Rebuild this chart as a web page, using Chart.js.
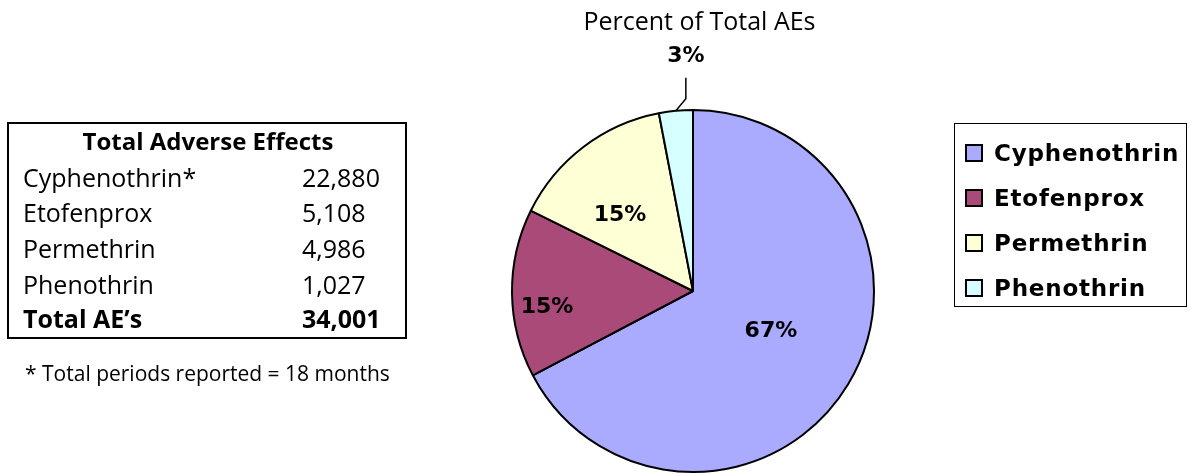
<!DOCTYPE html>
<html>
<head>
<meta charset="utf-8">
<script src="https://cdn.jsdelivr.net/npm/chart.js@4.4.1/dist/chart.umd.min.js"></script>
<style>
html,body{margin:0;padding:0;background:#fff;}
#wrap{position:relative;width:1193px;height:474px;overflow:hidden;background:#fff;}
#c{position:absolute;left:0;top:0;}
.txt{position:absolute;white-space:nowrap;color:#000;line-height:1;}
.os{font-family:"Open Sans",sans-serif;}
.dv{font-family:"DejaVu Sans",sans-serif;font-weight:bold;letter-spacing:0.8px;}
#tbox{position:absolute;left:7px;top:122px;width:396px;height:213px;border:2px solid #000;}
#lbox{position:absolute;left:954px;top:123px;width:231px;height:182px;border:1.5px solid #000;}
.sw{position:absolute;box-sizing:border-box;width:18px;height:18px;border:2px solid #000;}
</style>
</head>
<body>
<div id="wrap">
  <canvas id="c" width="1193" height="474"></canvas>
  <div id="title" class="txt os" style="font-size:25px;left:699.5px;top:7.8px;transform:translateX(-50%);"></div>
  <div id="tbox"></div>
  <div id="tableText"></div>
  <div id="foot" class="txt os" style="font-size:21px;left:25px;top:363.4px;"></div>
  <div id="lbox"></div>
  <div id="legend"></div>
</div>
<script>
// ---- data ----
const chartTitle = 'Percent of Total AEs';
const categories = ['Cyphenothrin', 'Etofenprox', 'Permethrin', 'Phenothrin'];
const adverseEffects = [22880, 5108, 4986, 1027];
const tableHeader = 'Total Adverse Effects';
const tableNames = ['Cyphenothrin*', 'Etofenprox', 'Permethrin', 'Phenothrin'];
const tableValues = ['22,880', '5,108', '4,986', '1,027'];
const totalLabel = 'Total AE\u2019s';
const totalValue = '34,001';
const footnote = '* Total periods reported = 18 months';

// ---- styles ----
const sliceColors = ['#AAAAFF', '#AA4A78', '#FFFFD6', '#D6FFFF'];
// where each percent label sits: t = fraction along the slice angle, r = fraction of radius
const labelPlacement = [
  {t: 0.48, r: 0.48},
  {t: 0.41, r: 0.81},
  {t: 0.39, r: 0.59},
  {outside: true, dx: 10, dy: -12, lineTop: -33, textBase: -49}
];

// ---- HTML text parts ----
document.getElementById('title').textContent = chartTitle;
document.getElementById('foot').textContent = footnote;

const tt = document.getElementById('tableText');
function addText(parent, cls, str, size, left, baseline, bold, extra) {
  const d = document.createElement('div');
  d.className = 'txt ' + cls;
  d.textContent = str;
  d.style.fontSize = size + 'px';
  const k = cls === 'os' ? 0.888 : 0.846;
  d.style.top = (baseline - k * size) + 'px';
  if (left !== null) d.style.left = left + 'px';
  if (bold) d.style.fontWeight = 'bold';
  if (extra) Object.assign(d.style, extra);
  parent.appendChild(d);
  return d;
}
addText(tt, 'os', tableHeader, 24, 208, 150.7, true, {transform: 'translateX(-50%)'});
const rowBase = [187, 222, 258, 294];
tableNames.forEach((n, i) => {
  addText(tt, 'os', n, 25, 23, rowBase[i], false);
  addText(tt, 'os', tableValues[i], 25, 302, rowBase[i], false);
});
addText(tt, 'os', totalLabel, 25, 23, 328, true);
addText(tt, 'os', totalValue, 25, 302, 328, true);

const lg = document.getElementById('legend');
const legBase = [161.7, 206.7, 251.5, 296.7];
categories.forEach((c, i) => {
  const s = document.createElement('div');
  s.className = 'sw';
  s.style.left = '965px';
  s.style.top = (legBase[i] - 18) + 'px';
  s.style.background = sliceColors[i];
  lg.appendChild(s);
  addText(lg, 'dv', c, 23, 994, legBase[i], false);
});

// ---- chart ----
const total = adverseEffects.reduce((a, b) => a + b, 0);

const pieLabels = {
  id: 'pieLabels',
  afterDatasetsDraw(chart) {
    const ctx = chart.ctx;
    const meta = chart.getDatasetMeta(0);
    ctx.save();
    ctx.fillStyle = '#000';
    ctx.strokeStyle = '#000';
    ctx.font = 'bold 22px "DejaVu Sans"';
    ctx.textAlign = 'center';
    ctx.textBaseline = 'alphabetic';
    const capHalf = 0.365 * 22;
    meta.data.forEach((arc, i) => {
      const p = arc.getProps(['x', 'y', 'startAngle', 'endAngle', 'outerRadius'], true);
      const pct = Math.round(adverseEffects[i] / total * 100) + '%';
      const pl = labelPlacement[i];
      if (pl.outside) {
        const a = (p.startAngle + p.endAngle) / 2;
        const ex = p.x + Math.cos(a) * p.outerRadius;
        const ey = p.y + Math.sin(a) * p.outerRadius;
        const lx = ex + pl.dx;
        ctx.lineWidth = 1.5;
        ctx.beginPath();
        ctx.moveTo(ex, ey);
        ctx.lineTo(lx, ey + pl.dy);
        ctx.lineTo(lx, ey + pl.lineTop);
        ctx.stroke();
        ctx.fillText(pct, lx, ey + pl.textBase);
      } else {
        const a = p.startAngle + pl.t * (p.endAngle - p.startAngle);
        const r = pl.r * p.outerRadius;
        ctx.fillText(pct, p.x + Math.cos(a) * r, p.y + Math.sin(a) * r + capHalf);
      }
    });
    ctx.restore();
  }
};

new Chart(document.getElementById('c'), {
  type: 'pie',
  data: {
    labels: categories,
    datasets: [{
      data: adverseEffects,
      backgroundColor: sliceColors,
      borderColor: '#000',
      borderWidth: 2,
      radius: 181,
      hoverOffset: 0
    }]
  },
  options: {
    responsive: false,
    devicePixelRatio: 1,
    animation: false,
    layout: {padding: {left: 512, right: 319, top: 110, bottom: 2}},
    plugins: {legend: {display: false}, tooltip: {enabled: false}, title: {display: false}}
  },
  plugins: [pieLabels]
});
</script>
</body>
</html>
